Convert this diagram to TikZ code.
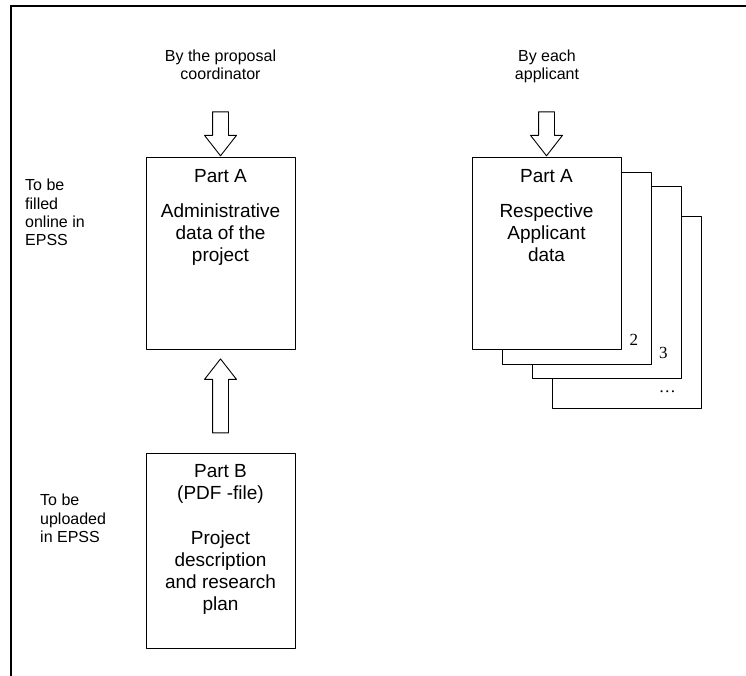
\documentclass[tikz,border=0pt]{standalone}
\usepackage{fontspec}
\setmainfont{Liberation Sans}
\newfontfamily\numfont{Liberation Serif}
\usetikzlibrary{positioning,calc,shapes.arrows}
\tikzset{every picture/.style={line cap=round, line join=round}}
\tikzset{card/.style={draw, rectangle, fill=white, minimum width=149pt,
  minimum height=192pt, inner sep=0pt, line width=0.9pt}}
\tikzset{cardtext/.style={align=center, inner sep=0pt,
  font=\fontsize{19}{22}\selectfont}}
\tikzset{small/.style={align=center, inner sep=0pt,
  font=\fontsize{16}{18.4}\selectfont}}
\tikzset{side/.style={align=left, inner sep=0pt, anchor=north west,
  font=\fontsize{16}{18.4}\selectfont}}
\tikzset{num/.style={inner sep=0pt, font=\numfont\fontsize{17}{17}\selectfont}}
\tikzset{blockarrow/.style={draw, single arrow, fill=white, line width=0.9pt,
  inner xsep=0pt, inner ysep=7.5pt, minimum width=31pt,
  single arrow head extend=8pt, single arrow tip angle=76, minimum height=44pt}}
\tikzset{frame/.style={draw, line width=2.2pt, line cap=rect, line join=miter}}

\begin{document}
\begin{tikzpicture}[x=1pt,y=-1pt]
  \useasboundingbox (0,0) rectangle (746,676);
  % frame
  \coordinate (fbot) at (11,676);
  \coordinate (fcorner) at (11,6);
  \coordinate (fright) at (746,6);
  \draw[frame] (fbot) -- (fcorner) -- (fright);

  % coordinator: Part A
  \node[card] (boxA) at (220.5,253) {};
  \node[cardtext, below=13pt of boxA.north] (txtA)
    {Part A\\[13pt]Administrative\\data of the\\project};
  \node[blockarrow, rotate=-90, anchor=tip] (arrA) at (boxA.north) {};
  \node[small, anchor=north] (byA) at (220.5,49.5) {By the proposal\\coordinator};

  % Part B
  \node[card, minimum height=195pt] (boxB) at (220.5,550.5) {};
  \node[cardtext, below=12pt of boxB.north] (txtB)
    {Part B\\(PDF -file)\\[23pt]Project\\description\\and research\\plan};
  \node[blockarrow, rotate=90, minimum height=74pt] (arrBA)
    at ($(boxB.north)!0.5!(boxA.south)$) {};

  % applicants: stack of Part A
  \node[card] (r4) at (626.5,312.5) {};
  \node[card] (r3) at (606.5,282.5) {};
  \node[card] (r2) at (577,268.5) {};
  \node[card] (r1) at (546.5,253) {};
  \node[num] (n2) at ($(r2.south east)+(-18,-25)$) {2};
  \node[num] (n3) at ($(r3.south east)+(-18,-26)$) {3};
  \node[num] (n4) at ($(r4.south east)+(-34,-17)$) {…};
  \node[cardtext, below=13pt of r1.north] (txtR)
    {Part A\\[13pt]Respective\\Applicant\\data};
  \node[blockarrow, rotate=-90, anchor=tip] (arrR) at (r1.north) {};
  \node[small, anchor=north] (byR) at (547,49.5) {By each\\applicant};

  % side notes
  \node[side] (online) at (25,179) {To be\\filled\\online in\\EPSS};
  \node[side] (upload) at (40,494) {To be\\uploaded\\in EPSS};
\end{tikzpicture}
\end{document}
